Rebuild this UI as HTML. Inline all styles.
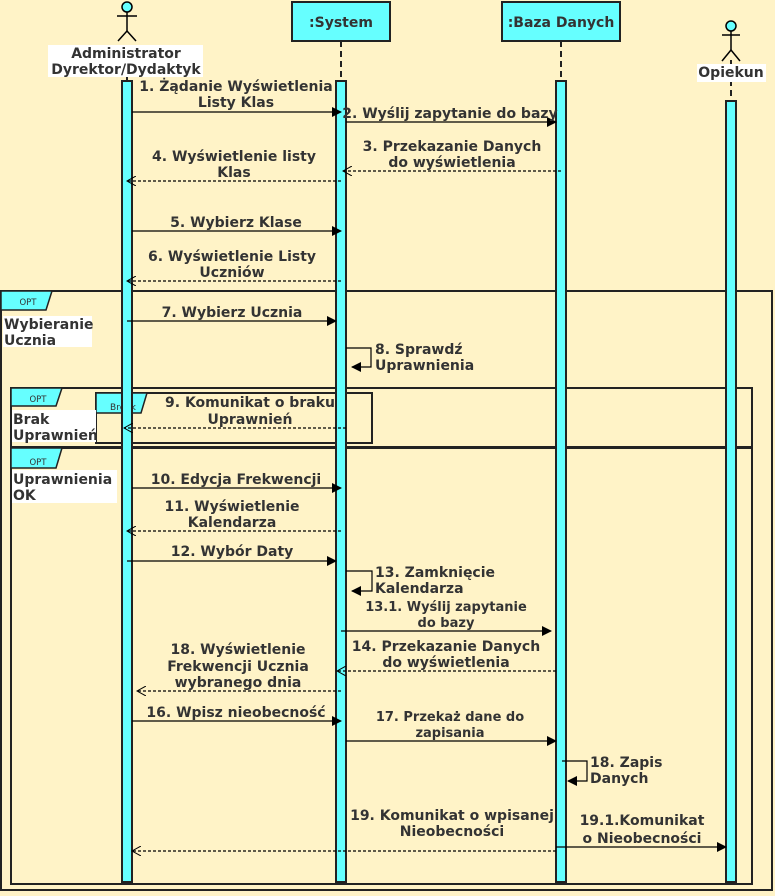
<!DOCTYPE html>
<html><head><meta charset="utf-8"><style>
html,body{margin:0;padding:0;background:#FFF3C7;}
svg{display:block;}
text{font-family:"DejaVu Sans","Liberation Sans",sans-serif;font-weight:bold;font-size:14px;fill:#333;}
</style></head><body>
<svg width="775" height="896" viewBox="0 0 775 896" xmlns="http://www.w3.org/2000/svg">
<defs>
<marker id="f" markerWidth="10" markerHeight="10" refX="9" refY="5" orient="auto" markerUnits="userSpaceOnUse"><path d="M0,0 L10,5 L0,10 z" fill="#000"/></marker>
<marker id="o" markerWidth="10" markerHeight="10" refX="9" refY="5" orient="auto" markerUnits="userSpaceOnUse"><path d="M0,0 L9,5 L0,10" fill="none" stroke="#000" stroke-width="1"/></marker>
</defs>
<rect width="775" height="896" fill="#FFF3C7"/>

<g stroke="#222" stroke-width="2" stroke-dasharray="6,4">
<line x1="127" y1="45" x2="127" y2="81"/>
<line x1="341" y1="41" x2="341" y2="81"/>
<line x1="561" y1="41" x2="561" y2="81"/>
<line x1="731" y1="60" x2="731" y2="101"/>
</g>

<rect x="292" y="2" width="98" height="39" fill="#66FFFF" stroke="#222" stroke-width="2"/>
<text x="341" y="27" text-anchor="middle">:System</text>
<rect x="502" y="2" width="118" height="39" fill="#66FFFF" stroke="#222" stroke-width="2"/>
<text x="561" y="27" text-anchor="middle">:Baza Danych</text>

<g stroke="#000" stroke-width="1.5" fill="none">
<circle cx="127" cy="7" r="5" fill="#66FFFF"/>
<line x1="127" y1="12" x2="127" y2="31"/><line x1="117" y1="16" x2="137" y2="16"/>
<line x1="127" y1="31" x2="118" y2="41"/><line x1="127" y1="31" x2="136" y2="41"/>
<circle cx="731" cy="26" r="5" fill="#66FFFF"/>
<line x1="731" y1="31" x2="731" y2="50"/><line x1="722" y1="35" x2="740" y2="35"/>
<line x1="731" y1="50" x2="722" y2="61"/><line x1="731" y1="50" x2="740" y2="61"/>
</g>
<rect x="48" y="45" width="155" height="32" fill="#fff"/>
<text x="126" y="58" text-anchor="middle">Administrator</text>
<text x="126" y="74" text-anchor="middle">Dyrektor/Dydaktyk</text>
<rect x="697" y="64" width="69" height="18" fill="#fff"/>
<text x="731" y="77" text-anchor="middle">Opiekun</text>

<g fill="none" stroke="#222" stroke-width="2">
<rect x="1" y="291" width="771" height="599"/>
<rect x="11" y="388" width="741" height="59"/>
<rect x="11" y="448" width="741" height="436"/>
<rect x="96" y="393" width="276" height="50"/>
</g>
<g fill="#66FFFF" stroke="#222" stroke-width="1.5">
<path d="M1,291 H52 L46,310 H1 Z"/>
<path d="M11,388 H62 L56,406 H11 Z"/>
<path d="M11,448 H62 L56,468 H11 Z"/>
<path d="M96,393 H147 L141,413 H96 Z"/>
</g>
<text x="28" y="305" text-anchor="middle" style="font-size:8.5px;font-weight:normal">OPT</text>
<text x="38" y="402" text-anchor="middle" style="font-size:8.5px;font-weight:normal">OPT</text>
<text x="38" y="465" text-anchor="middle" style="font-size:8.5px;font-weight:normal">OPT</text>
<text x="123" y="410" text-anchor="middle" style="font-size:9px;font-weight:normal">Break</text>
<rect x="3" y="316" width="89" height="31" fill="#fff"/>
<text x="4" y="329">Wybieranie</text><text x="4" y="345">Ucznia</text>
<rect x="12" y="410" width="84" height="32" fill="#fff"/>
<text x="13" y="424">Brak</text><text x="13" y="440">Uprawnień</text>
<rect x="12" y="470" width="105" height="33" fill="#fff"/>
<text x="13" y="484">Uprawnienia</text><text x="13" y="500">OK</text>

<g fill="#66FFFF" stroke="#222" stroke-width="2">
<rect x="122" y="81" width="10" height="801"/>
<rect x="336" y="81" width="10" height="801"/>
<rect x="556" y="81" width="10" height="801"/>
<rect x="726" y="101" width="10" height="781"/>
</g>

<g stroke="#000" stroke-width="1.2" fill="none">
<line x1="132" y1="112" x2="341" y2="112" marker-end="url(#f)"/>
<line x1="346" y1="122" x2="556" y2="122" marker-end="url(#f)"/>
<line x1="561" y1="171" x2="343" y2="171" stroke-dasharray="3,2" marker-end="url(#o)"/>
<line x1="341" y1="181" x2="127" y2="181" stroke-dasharray="3,2" marker-end="url(#o)"/>
<line x1="132" y1="231" x2="341" y2="231" marker-end="url(#f)"/>
<line x1="341" y1="281" x2="127" y2="281" stroke-dasharray="3,2" marker-end="url(#o)"/>
<line x1="127" y1="321" x2="336" y2="321" marker-end="url(#f)"/>
<path d="M346,348 H371 V367 H352" marker-end="url(#f)"/>
<line x1="346" y1="428" x2="124" y2="428" stroke-dasharray="3,2" marker-end="url(#o)"/>
<line x1="132" y1="488" x2="341" y2="488" marker-end="url(#f)"/>
<line x1="341" y1="531" x2="127" y2="531" stroke-dasharray="3,2" marker-end="url(#o)"/>
<line x1="127" y1="561" x2="336" y2="561" marker-end="url(#f)"/>
<path d="M346,571 H372 V591 H352" marker-end="url(#f)"/>
<line x1="341" y1="631" x2="551" y2="631" marker-end="url(#f)"/>
<line x1="556" y1="671" x2="337" y2="671" stroke-dasharray="3,2" marker-end="url(#o)"/>
<line x1="341" y1="691" x2="137" y2="691" stroke-dasharray="3,2" marker-end="url(#o)"/>
<line x1="132" y1="721" x2="341" y2="721" marker-end="url(#f)"/>
<line x1="346" y1="741" x2="556" y2="741" marker-end="url(#f)"/>
<path d="M562,761 H587 V781 H568" marker-end="url(#f)"/>
<line x1="556" y1="851" x2="132" y2="851" stroke-dasharray="3,2" marker-end="url(#o)"/>
<line x1="556" y1="847" x2="726" y2="847" marker-end="url(#f)"/>
</g>

<g text-anchor="middle">
<text x="236" y="91">1. Żądanie Wyświetlenia</text><text x="236" y="107">Listy Klas</text>
<text x="450" y="118">2. Wyślij zapytanie do bazy</text>
<text x="452" y="151">3. Przekazanie Danych</text><text x="452" y="167">do wyświetlenia</text>
<text x="234" y="161">4. Wyświetlenie listy</text><text x="234" y="177">Klas</text>
<text x="236" y="227">5. Wybierz Klase</text>
<text x="232" y="261">6. Wyświetlenie Listy</text><text x="232" y="277">Uczniów</text>
<text x="232" y="317">7. Wybierz Ucznia</text>
<text x="250" y="407">9. Komunikat o braku</text><text x="250" y="424">Uprawnień</text>
<text x="236" y="484">10. Edycja Frekwencji</text>
<text x="232" y="511">11. Wyświetlenie</text><text x="232" y="527">Kalendarza</text>
<text x="232" y="556">12. Wybór Daty</text>
<text x="446" y="611" style="font-size:13px">13.1. Wyślij zapytanie</text><text x="446" y="627" style="font-size:13px">do bazy</text>
<text x="446" y="651">14. Przekazanie Danych</text><text x="446" y="667">do wyświetlenia</text>
<text x="238" y="654">18. Wyświetlenie</text><text x="238" y="671">Frekwencji Ucznia</text><text x="238" y="687">wybranego dnia</text>
<text x="236" y="717">16. Wpisz nieobecność</text>
<text x="450" y="721" style="font-size:13px">17. Przekaż dane do</text><text x="450" y="737" style="font-size:13px">zapisania</text>
<text x="452" y="820">19. Komunikat o wpisanej</text><text x="452" y="836">Nieobecności</text>
<text x="642" y="825">19.1.Komunikat</text><text x="642" y="843">o Nieobecności</text>
</g>
<text x="375" y="354">8. Sprawdź</text><text x="375" y="370">Uprawnienia</text>
<text x="375" y="577">13. Zamknięcie</text><text x="375" y="593">Kalendarza</text>
<text x="590" y="767">18. Zapis</text><text x="590" y="783">Danych</text>
</svg>
</body></html>
